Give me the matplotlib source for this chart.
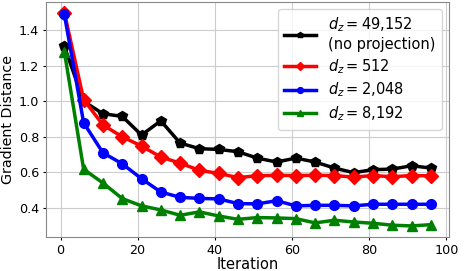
import matplotlib
matplotlib.use("Agg")
import matplotlib.pyplot as plt

# ── Data ───────────────────────────────────────────────────────────────────────
iterations = [1, 6, 11, 16, 21, 26, 31, 36, 41, 46, 51, 56, 61, 66, 71, 76, 81, 86, 91, 96]

dist_49152 = [1.31, 1.00, 0.93, 0.915, 0.81, 0.89, 0.765, 0.733, 0.729, 0.716, 0.68,
              0.658, 0.68, 0.658, 0.624, 0.598, 0.615, 0.618, 0.637, 0.624]
dist_512 = [1.50, 1.01, 0.867, 0.80, 0.748, 0.686, 0.652, 0.611, 0.594, 0.57, 0.581,
            0.583, 0.582, 0.583, 0.582, 0.573, 0.582, 0.575, 0.582, 0.58]
dist_2048 = [1.49, 0.879, 0.71, 0.648, 0.564, 0.489, 0.459, 0.453, 0.45, 0.424, 0.422,
             0.44, 0.411, 0.414, 0.414, 0.411, 0.42, 0.42, 0.42, 0.42]
dist_8192 = [1.28, 0.617, 0.54, 0.452, 0.411, 0.388, 0.358, 0.377, 0.354, 0.335, 0.345,
             0.343, 0.339, 0.315, 0.33, 0.32, 0.313, 0.302, 0.298, 0.305]

labels = [r"$d_z=49{,}152$" + "\n(no projection)",
          r"$d_z=512$",
          r"$d_z=2{,}048$",
          r"$d_z=8{,}192$"]

# ── Figure ─────────────────────────────────────────────────────────────────────
fig = plt.figure(figsize=(4.65, 2.71), dpi=100)
ax = fig.add_axes([0.099, 0.127, 0.867, 0.866])

series = [
    (dist_49152, "black", "p"),
    (dist_512, "red", "D"),
    (dist_2048, "blue", "o"),
    (dist_8192, "green", "^"),
]
for (vals, col, mk), lab in zip(series, labels):
    ax.plot(iterations, vals, color=col, marker=mk, lw=2.5, ms=7, label=lab)

ax.grid(True, color="#cccccc", lw=0.8)
ax.set_xlabel("Iteration", fontsize=10.5)
ax.set_ylabel("Gradient Distance", fontsize=10.3)
ax.xaxis.set_label_coords(0.5, -0.085)
ax.yaxis.set_label_coords(-0.077, 0.5)
ax.tick_params(labelsize=9.2, length=2.5, pad=2.5)
ax.set_xticks([0, 20, 40, 60, 80, 100])
ax.set_yticks([0.4, 0.6, 0.8, 1.0, 1.2, 1.4])
for sp in ax.spines.values():
    sp.set_color("#888888")

ax.legend(loc="upper right", fontsize=10.5, markerscale=0.6,
          handlelength=2.2, labelspacing=0.35, borderpad=0.45)

fig.savefig("out.png", dpi=100)
